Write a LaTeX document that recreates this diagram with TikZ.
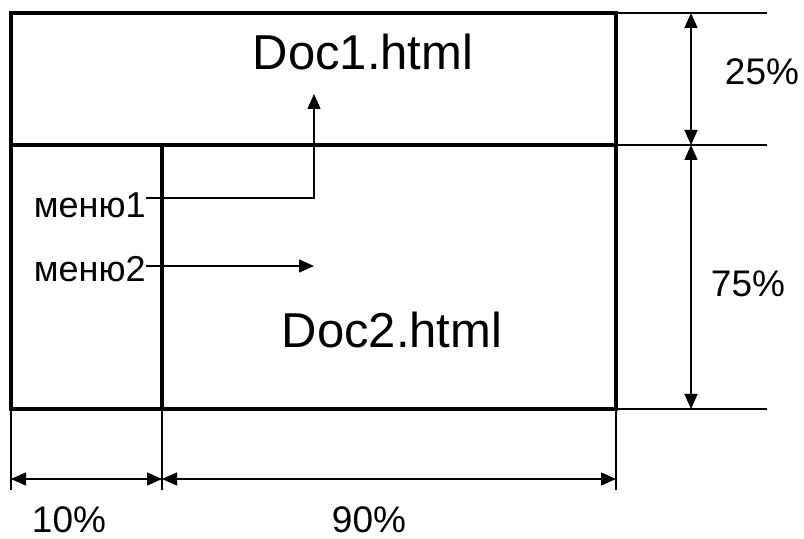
\documentclass[tikz,border=0pt]{standalone}
\usepackage{fontspec}
\setmainfont{Liberation Sans}
\usetikzlibrary{arrows.meta}

\begin{document}
\begin{tikzpicture}[x=0.5pt,y=-0.5pt,
    frame/.style={line width=2pt},
    dimline/.style={line width=0.7pt},
    dimarrow/.style={line width=0.7pt,{Triangle[length=7.5pt,width=6.5pt]}-{Triangle[length=7.5pt,width=6.5pt]}},
    link/.style={line width=0.7pt,-{Triangle[length=7.5pt,width=6.5pt]}},
    doctext/.style={anchor=base,inner sep=0pt,font=\fontsize{24.5}{28}\selectfont},
    menutext/.style={anchor=base east,inner sep=0pt,font=\fontsize{18}{21}\selectfont},
    pcttext/.style={anchor=base,inner sep=0pt,font=\fontsize{18.5}{22}\selectfont}]
            \useasboundingbox (0,0) rectangle (804,539);
            % frames
            \coordinate (tl) at (11,13);
            \coordinate (br) at (616,409);
            \draw[frame] (tl) rectangle (br);
            \draw[frame] (11,145) -- (616,145);
            \draw[frame] (162,145) -- (162,409);
            % texts
            \node[doctext] (doc1) at (363,70) {Doc1.html};
            \node[doctext] (doc2) at (392,348) {Doc2.html};
            \node[menutext] (menu1) at (146,218) {меню1};
            \node[menutext] (menu2) at (146,282) {меню2};
            \coordinate (tip1) at (314,94);
            \coordinate (tip2) at (314,266);
            \draw[link] (menu1.east |- 0,198) -| (tip1);
            \draw[link] (menu2.east |- tip2) -- (tip2);
            % dimensions right
            \draw[dimline] (616,13) -- (767,13);
            \draw[dimline] (616,145) -- (767,145);
            \draw[dimline] (616,409) -- (767,409);
            \draw[dimarrow] (691,13) -- (691,145);
            \draw[dimarrow] (691,145) -- (691,409);
            \node[pcttext] (h1) at (762,85) {25\%};
            \node[pcttext] (h2) at (748,297) {75\%};
            % dimensions bottom
            \draw[dimline] (11,409) -- (11,490);
            \draw[dimline] (162,409) -- (162,490);
            \draw[dimline] (616,409) -- (616,490);
            \draw[dimarrow] (11,479) -- (162,479);
            \draw[dimarrow] (162,479) -- (616,479);
            \node[pcttext] (w1) at (69,533) {10\%};
            \node[pcttext] (w2) at (369,533) {90\%};
        \end{tikzpicture}
\end{document}
